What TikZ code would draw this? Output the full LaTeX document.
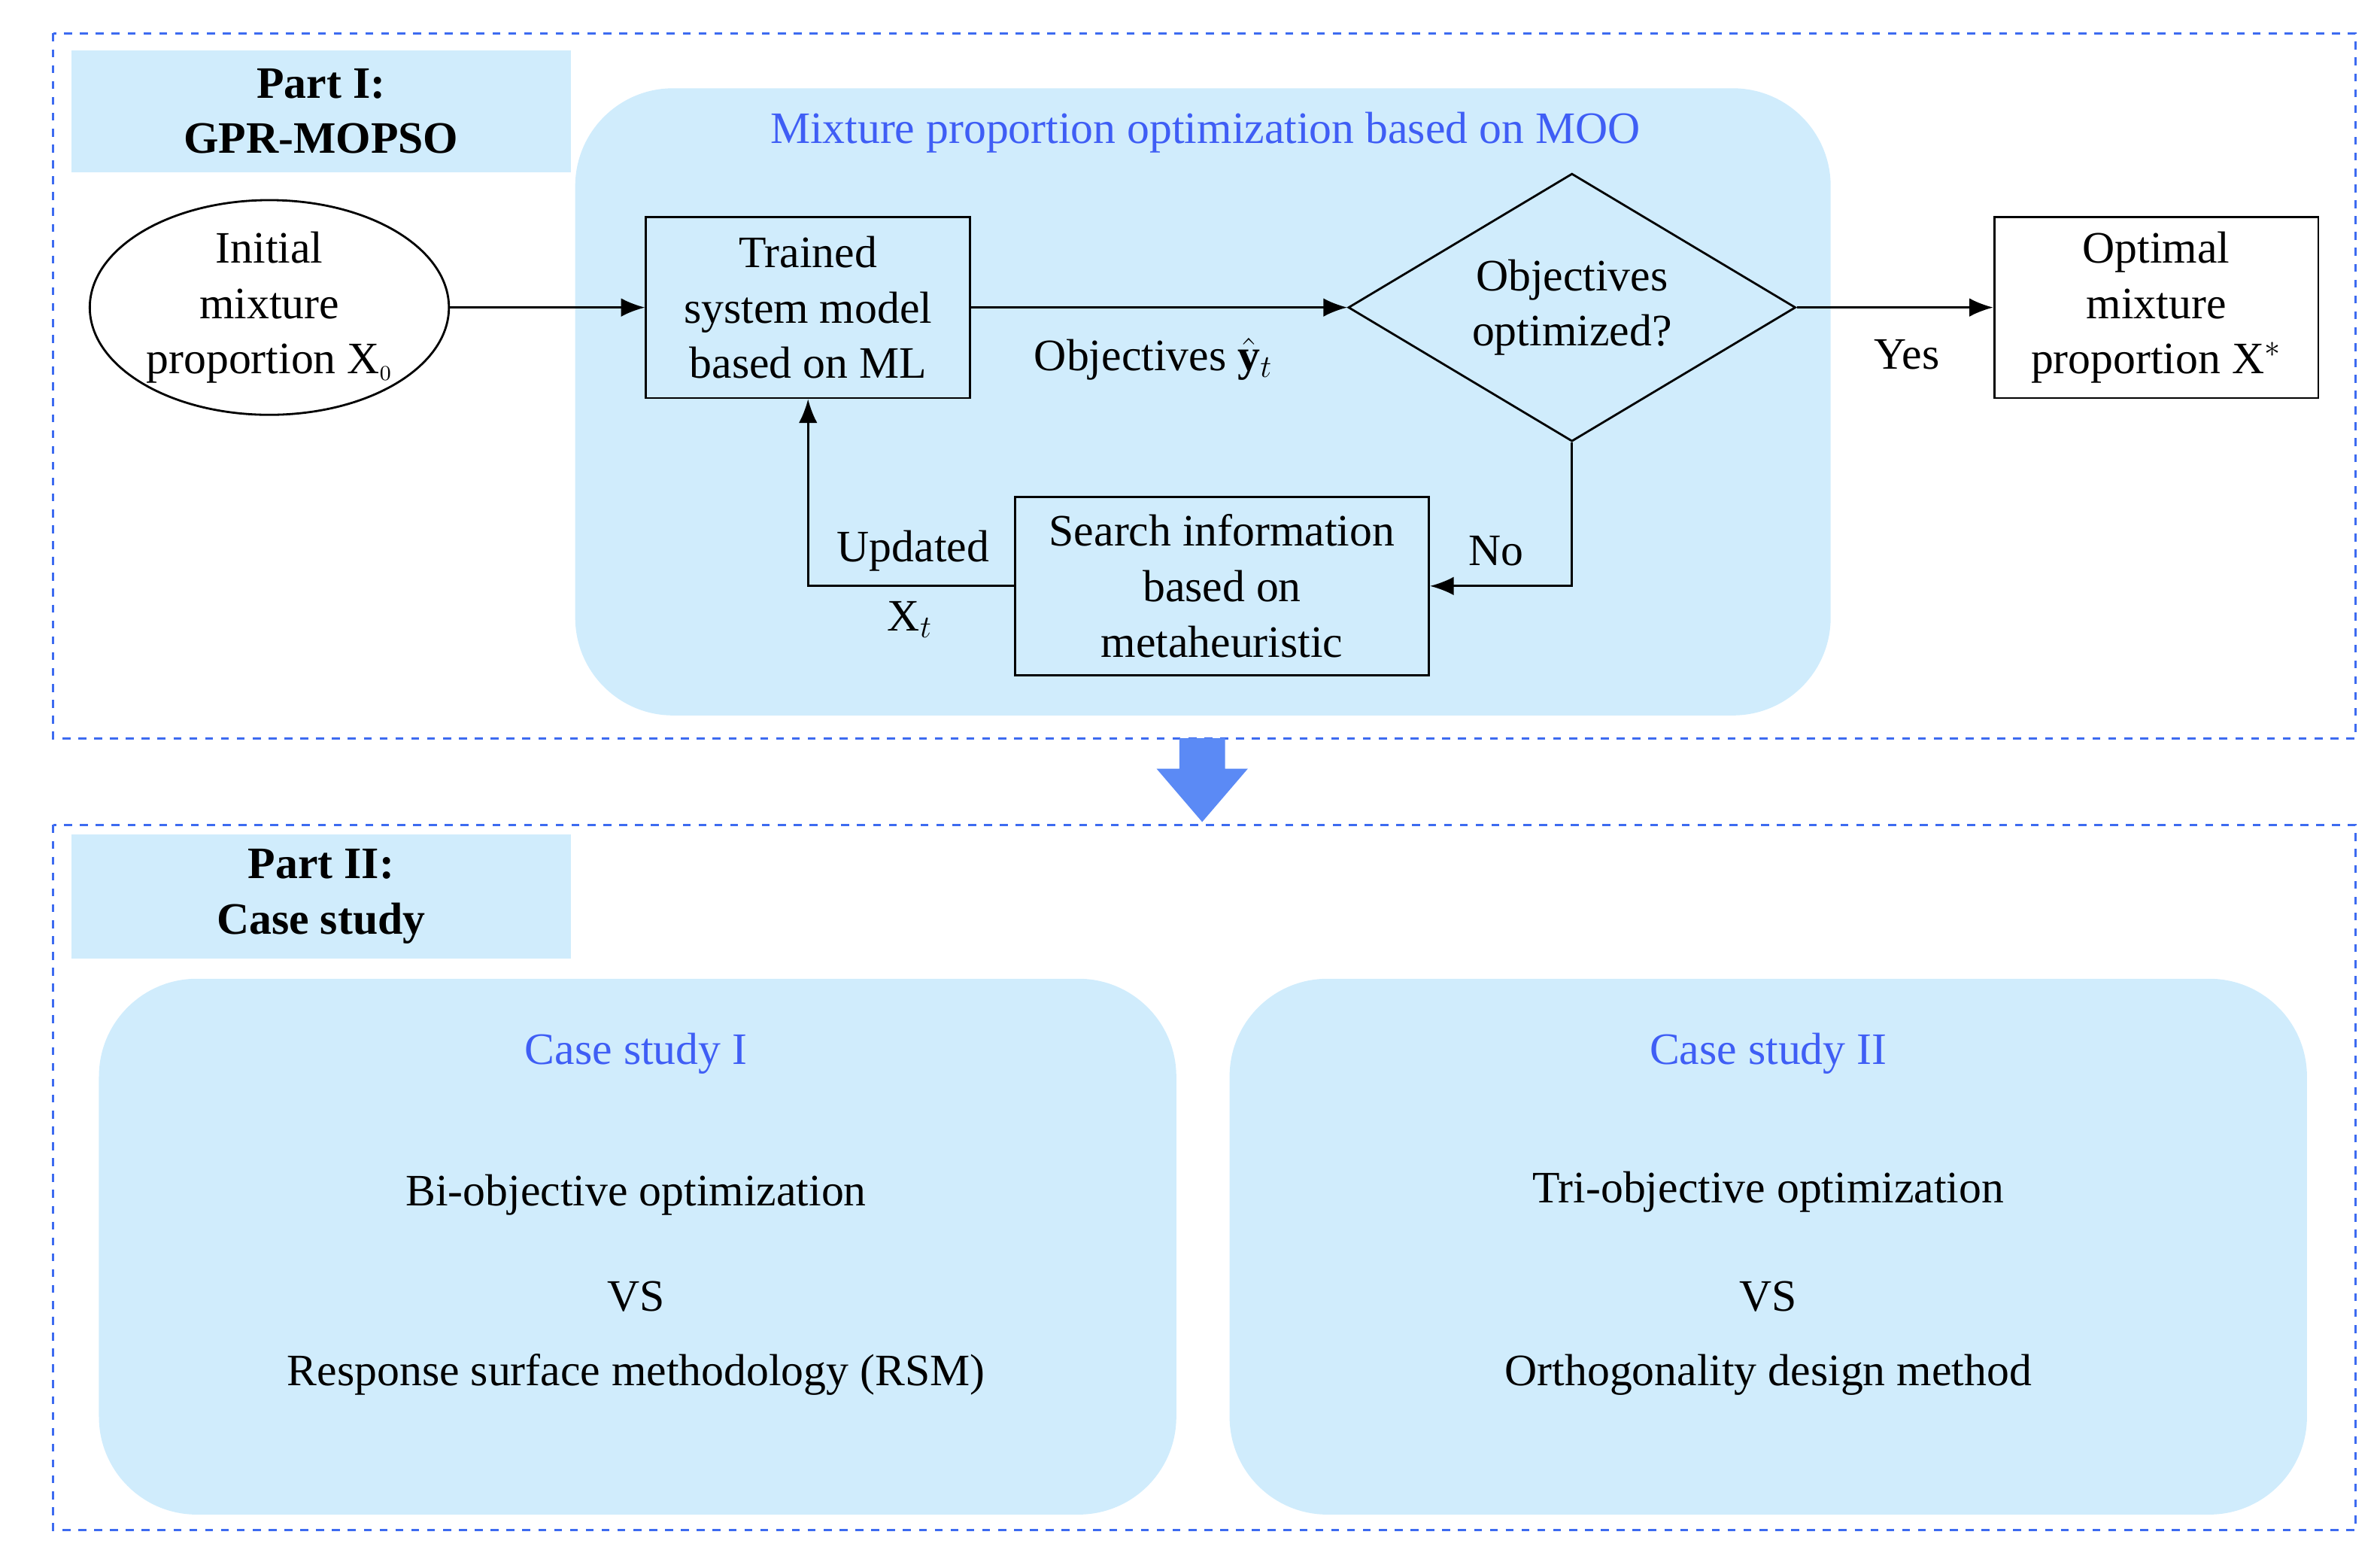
\documentclass[tikz,border=0pt]{standalone}
\usepackage{fontspec}
\setmainfont{Liberation Serif}
\usetikzlibrary{arrows.meta,shapes.geometric,positioning}
\definecolor{paleblue}{HTML}{D0ECFC}
\definecolor{dashblue}{HTML}{3D6BF0}
\definecolor{titleblue}{HTML}{3F5EF5}
\definecolor{fatblue}{HTML}{5B8AF5}
\begin{document}
\begin{tikzpicture}[x=0.02023cm,y=-0.02023cm,font=\fontsize{17}{21}\selectfont,
    part/.style={dashblue,dashed,thick},
    region/.style={fill=paleblue,draw=none,rounded corners=1.3cm},
    tag/.style={fill=paleblue,inner sep=0pt,align=center,font=\fontsize{17}{21}\selectfont\bfseries},
    block/.style={draw,thick,fill=paleblue,align=center,inner sep=2pt},
    flow/.style={thick,-{Latex[length=9pt,width=7pt]}},
    note/.style={inner sep=1pt}]
    \useasboundingbox (0,0) rectangle (1564,1020);
    % Part I
    \draw[part] (35,22) rectangle (1548,485);
    \node[tag,minimum width=328*0.02023cm,minimum height=80*0.02023cm] (p1) at (211,73) {Part I:\\GPR-MOPSO};
    \fill[region] (378,58) rectangle (1203,470);
    \node[titleblue] (moo) at (792,87) {Mixture proportion optimization based on MOO};
    \node[draw,thick,ellipse,fill=white,minimum width=236*0.02023cm,minimum height=140*0.02023cm,align=center,inner sep=0pt] (init) at (177,202) {Initial\\mixture\\proportion X$_{\scriptscriptstyle 0}$};
    \node[block,minimum width=213*0.02023cm,minimum height=119*0.02023cm] (model) at (531,202) {Trained\\system model\\based on ML};
    \node[draw,thick,diamond,aspect=1.67,minimum width=294*0.02023cm,minimum height=176*0.02023cm,align=center,inner sep=0pt] (check) at (1033,202) {Objectives\\optimized?};
    \node[draw,thick,fill=white,minimum width=213*0.02023cm,minimum height=119*0.02023cm,align=center,inner sep=2pt] (best) at (1417,202) {Optimal\\mixture\\proportion X$^{*}$};
    \node[block,minimum width=272*0.02023cm,minimum height=117*0.02023cm] (search) at (803,385) {Search information\\based on\\metaheuristic};
    \draw[flow] (init) -- (model);
    \draw[flow] (model) -- (check);
    \draw[flow] (check.east) -- (best);
    \draw[flow] (check.south) |- (search.east);
    \draw[flow] (search.west) -| (model.south);
    \node[note] (obj) at (758,236) {Objectives $\hat{\mathbf{y}}_{t}$};
    \node[note] (yes) at (1253,233) {Yes};
    \node[note] (no) at (983,362) {No};
    \node[note] (upd) at (600,362) {Updated};
    \node[note] (xt) at (598,407) {X$_{t}$};
    % link between parts
    \fill[fatblue] (775,485) -- (805,485) -- (805,505) -- (820,505) -- (790,540) -- (760,505) -- (775,505) -- cycle;
    % Part II
    \draw[part] (35,542) rectangle (1548,1005);
    \node[tag,minimum width=328*0.02023cm,minimum height=82*0.02023cm] (p2) at (211,589) {Part II:\\Case study};
    \fill[region] (65,643) rectangle (773,995);
    \fill[region] (808,643) rectangle (1516,995);
    \node[titleblue] (c1) at (418,692) {Case study I};
    \node (c1a) at (418,785) {Bi-objective optimization};
    \node (c1b) at (418,852) {VS};
    \node (c1c) at (418,903) {Response surface methodology (RSM)};
    \node[titleblue] (c2) at (1162,692) {Case study II};
    \node (c2a) at (1162,783) {Tri-objective optimization};
    \node (c2b) at (1162,852) {VS};
    \node (c2c) at (1162,903) {Orthogonality design method};
\end{tikzpicture}
\end{document}
